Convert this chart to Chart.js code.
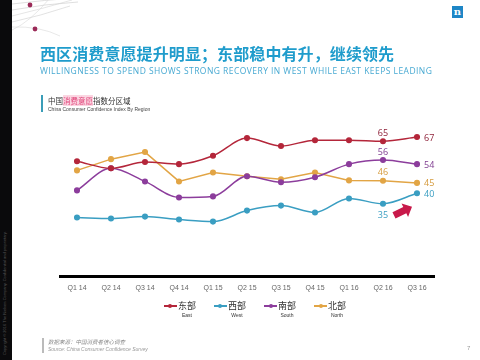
<!DOCTYPE html>
<html>
<head>
<meta charset="utf-8">
<script src="https://cdn.jsdelivr.net/npm/chart.js@4/dist/chart.umd.min.js"></script>
<style>
  html, body { margin: 0; padding: 0; background: #fff; }
  #page { position: relative; width: 480px; height: 360px; overflow: hidden; font-family: "Noto Sans CJK SC", "Noto Sans", sans-serif; }
  #chart { position: absolute; left: 0; top: 0; }
  .abs { position: absolute; white-space: nowrap; }
  #strip { left: 0; top: 0; width: 12px; height: 360px; background: #0a0a0c; }
  #stripText { left: 2px; top: 355px; transform-origin: 0 0; transform: rotate(-90deg); font-size: 4px; color: #555; font-family: "Liberation Sans", sans-serif; }
  #logo { left: 452px; top: 6px; width: 11px; height: 12px; background: #1e86c6; color: #fff; font: bold 10px/11px "DejaVu Serif", serif; text-align: center; }
  #title { left: 40px; top: 41px; font-size: 16px; font-weight: bold; color: #1f9ccc; letter-spacing: 0.1px; }
  #subtitle { left: 40px; top: 65px; font-size: 8.5px; color: #47a9d2; font-family: "Open Sans", sans-serif; letter-spacing: 0.45px; }
  #bar1 { left: 41px; top: 95px; width: 2px; height: 17px; background: #3a9db8; }
  #ct1 { left: 48px; top: 95px; font-size: 7.5px; color: #333; }
  #ct1 span { color: #e0457a; background: #fbd6e2; }
  #ct2 { left: 48px; top: 106px; font-size: 5px; color: #444; font-family: "Liberation Sans", sans-serif; }
  #bar2 { left: 42px; top: 338px; width: 2px; height: 15px; background: #bbb; }
  #src1 { left: 48px; top: 338px; font-size: 5.5px; color: #888; font-style: italic; }
  #src2 { left: 48px; top: 346px; font-size: 5px; color: #999; font-style: italic; font-family: "Liberation Sans", sans-serif; }
  #pageNo { left: 467px; top: 345px; font-size: 6px; color: #999; font-family: "Liberation Sans", sans-serif; }
  #legend { left: 0; top: 300px; width: 480px; display: flex; justify-content: center; gap: 18px; padding-left: 30px; box-sizing: border-box; }
  .item { display: flex; align-items: flex-start; }
  .mark { position: relative; width: 13px; height: 12px; }
  .mark i { position: absolute; left: 0; top: 5px; width: 13px; height: 1.5px; }
  .mark b { position: absolute; left: 4.5px; top: 3.5px; width: 4px; height: 4px; border-radius: 50%; }
  .lab { text-align: center; margin-left: 1px; }
  .lab .zh { font-size: 9px; line-height: 12px; color: #333; }
  .lab .en { font-size: 5px; line-height: 7px; color: #333; font-family: "Liberation Sans", sans-serif; }
</style>
</head>
<body>
<div id="page">
  <canvas id="chart" width="480" height="360"></canvas>
  <div class="abs" id="strip"></div>
  <div class="abs" id="stripText">Copyright © 2016 The Nielsen Company. Confidential and proprietary.</div>
  <svg class="abs" style="left:0;top:0" width="90" height="40">
    <path d="M12 4 Q45 0 75 -2" stroke="#c9c9c9" stroke-width="0.6" fill="none"/>
    <path d="M12 10 Q45 4 78 2" stroke="#c9c9c9" stroke-width="0.6" fill="none"/>
    <path d="M12 16 Q45 8 72 0" stroke="#d3d3d3" stroke-width="0.6" fill="none"/>
    <path d="M12 22 Q40 16 70 6" stroke="#cfcfcf" stroke-width="0.6" fill="none"/>
    <path d="M12 27 Q40 26 60 36" stroke="#d8d8d8" stroke-width="0.6" fill="none"/>
    <path d="M12 30 Q30 22 50 -2" stroke="#d8d8d8" stroke-width="0.6" fill="none"/>
    <circle cx="30" cy="5" r="2.4" fill="#9b2a58"/>
    <circle cx="35" cy="29" r="2.4" fill="#9b2a58"/>
  </svg>
  <div class="abs" id="logo">n</div>
  <div class="abs" id="title">西区消费意愿提升明显；东部稳中有升，继续领先</div>
  <div class="abs" id="subtitle">WILLINGNESS TO SPEND SHOWS STRONG RECOVERY IN WEST WHILE EAST KEEPS LEADING</div>
  <div class="abs" id="bar1"></div>
  <div class="abs" id="ct1">中国<span>消费意愿</span>指数分区域</div>
  <div class="abs" id="ct2">China Consumer Confidence Index By Region</div>
  <div class="abs" id="legend"></div>
  <div class="abs" id="bar2"></div>
  <div class="abs" id="src1">数据来源：中国消费者信心调查</div>
  <div class="abs" id="src2">Source: China Consumer Confidence Survey</div>
  <div class="abs" id="pageNo">7</div>
</div>
<script>
'use strict';

// ** DATA **

let quarters = ['Q1 14', 'Q2 14', 'Q3 14', 'Q4 14', 'Q1 15', 'Q2 15', 'Q3 15', 'Q4 15', 'Q1 16', 'Q2 16', 'Q3 16'];
let seriesNames = ['东部', '西部', '南部', '北部'];
let seriesNamesEn = ['East', 'West', 'South', 'North'];
let eastValues = [55.4, 52, 55, 54, 58, 66.5, 62.7, 65.5, 65.5, 65, 67];
let westValues = [28.4, 27.9, 28.8, 27.4, 26.4, 31.7, 34.1, 30.8, 37.5, 35, 40];
let southValues = [41.4, 52, 45.7, 38, 38.5, 48.2, 45.3, 47.7, 54, 56, 54];
let northValues = [51, 56.4, 59.8, 45.7, 50, 48.2, 46.7, 50, 46.2, 46, 45];

// which points get a value label: [series index, point index, place]
let pointLabels = [
  [0, 9, 'above'], [0, 10, 'right'],
  [2, 9, 'above'], [2, 10, 'right'],
  [3, 9, 'above'], [3, 10, 'right'],
  [1, 9, 'below'], [1, 10, 'right']
];

// ** STYLES **

let lineColors = ['#b4263a', '#3a9ec2', '#8c3d9c', '#e2a545'];
let labelColors = ['#8e2038', '#3a9ec2', '#7d3a8e', '#d59a3c'];
let tensions = [0.4, 0.4, 0.4, 0];

// ** LEGEND **

let legendBox = document.getElementById('legend');
for (let i = 0; i < seriesNames.length; i++) {
  let item = document.createElement('div');
  item.className = 'item';
  item.innerHTML = '<div class="mark"><i style="background:' + lineColors[i] + '"></i><b style="background:' + lineColors[i] + '"></b></div>' +
    '<div class="lab"><div class="zh">' + seriesNames[i] + '</div><div class="en">' + seriesNamesEn[i] + '</div></div>';
  legendBox.appendChild(item);
}

// ** PLUGIN: value labels + arrow **

let labelPlugin = {
  id: 'pointLabels',
  afterDatasetsDraw(chart) {
    let c = chart.ctx;
    c.save();
    c.font = '9px "Open Sans", sans-serif';
    c.textBaseline = 'middle';
    for (let k = 0; k < pointLabels.length; k++) {
      let s = pointLabels[k][0];
      let p = pointLabels[k][1];
      let place = pointLabels[k][2];
      let pt = chart.getDatasetMeta(s).data[p];
      let val = Math.round(chart.data.datasets[s].data[p]);
      c.fillStyle = labelColors[s];
      if (place === 'right') {
        c.textAlign = 'left';
        c.fillText(val, pt.x + 7, pt.y + 1);
      } else if (place === 'above') {
        c.textAlign = 'center';
        c.fillText(val, pt.x, pt.y - 8);
      } else {
        c.textAlign = 'center';
        c.fillText(val, pt.x, pt.y + 12);
      }
    }

    // pink arrow pointing up-right between the last two quarters
    let xs = chart.scales.x;
    let ys = chart.scales.y;
    let ax = (xs.getPixelForValue(9) + xs.getPixelForValue(10)) / 2 + 3;
    let ay = ys.getPixelForValue(31.5);
    c.translate(ax, ay);
    c.rotate(-0.45);
    c.beginPath();
    c.moveTo(-10, -3.5);
    c.lineTo(2, -3.5);
    c.lineTo(2, -7.5);
    c.lineTo(10, 0);
    c.lineTo(2, 7.5);
    c.lineTo(2, 3.5);
    c.lineTo(-10, 3.5);
    c.closePath();
    c.fillStyle = '#c8194a';
    c.fill();
    c.restore();
  }
};

// ** CHART **

let allValues = [eastValues, westValues, southValues, northValues];
let datasets = [];
for (let i = 0; i < allValues.length; i++) {
  datasets.push({
    label: seriesNames[i],
    data: allValues[i],
    borderColor: lineColors[i],
    backgroundColor: lineColors[i],
    borderWidth: 1.5,
    pointRadius: 2.3,
    pointHoverRadius: 2.3,
    tension: tensions[i],
    cubicInterpolationMode: 'monotone'
  });
}
datasets[3].cubicInterpolationMode = 'default';

new Chart(document.getElementById('chart'), {
  type: 'line',
  data: { labels: quarters, datasets: datasets },
  options: {
    responsive: false,
    animation: false,
    events: [],
    layout: { padding: { left: 60, right: 46, top: 110, bottom: 61 } },
    plugins: { legend: { display: false }, tooltip: { enabled: false } },
    scales: {
      x: {
        offset: true,
        grid: { display: false, drawTicks: false },
        border: { color: '#000', width: 3 },
        ticks: { color: '#666', font: { size: 7, family: '"Liberation Sans", sans-serif' }, padding: 7, autoSkip: false, maxRotation: 0 }
      },
      y: {
        display: false,
        min: 0,
        max: 80
      }
    }
  },
  plugins: [labelPlugin]
});
</script>
</body>
</html>
